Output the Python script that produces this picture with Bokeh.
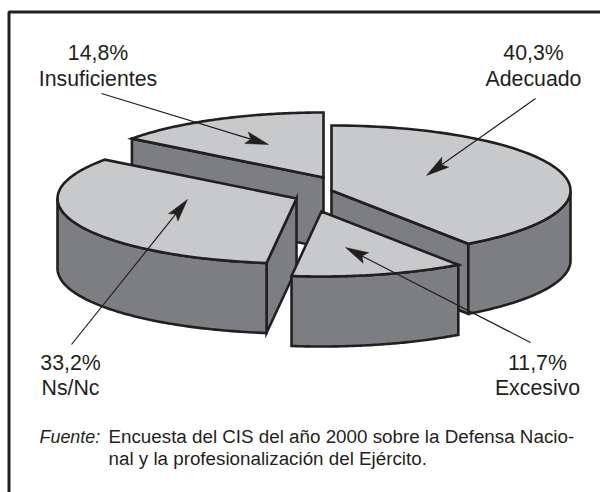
import numpy as np
from bokeh.plotting import figure
from bokeh.models import Range1d
from bokeh.core.properties import value
from bokeh.embed import file_html
from bokeh.resources import INLINE

categories = ["Adecuado", "Excesivo", "Ns/Nc", "Insuficientes"]
shares = [40.3, 11.7, 33.2, 14.8]
share_labels = ["40,3%", "11,7%", "33,2%", "14,8%"]

INK = "#231f20"
TOP = "#c8c9cb"
WALL = "#7d7e82"
FONT = value("Liberation Sans")

p = figure(width=600, height=492, output_backend="svg", toolbar_location=None,
           x_range=Range1d(0, 600), y_range=Range1d(492, 0),
           min_border=0, outline_line_color=None, background_fill_color="white")
p.axis.visible = False
p.grid.visible = False

# frame
p.line([8.5, 8.5, 600], [492, 11.5, 11.5], line_color=INK, line_width=3)

# pie geometry
RX, RY, DEPTH = 239, 65, 70
CENTRES = {"Adecuado": (331, 190), "Excesivo": (321, 211),
           "Ns/Nc": (296, 198), "Insuficientes": (323, 177)}

edges = np.concatenate([[0], np.cumsum(shares)]) * 2 * np.pi / 100
spans = {c: (edges[i], edges[i + 1]) for i, c in enumerate(categories)}


def rim(c, a, b, n=80):
    cx, cy = CENTRES[c]
    t = np.linspace(a, b, n)
    return cx + RX * np.sin(t), cy - RY * np.cos(t)


def poly(xs, ys, color):
    p.patch(xs, ys, fill_color=color, line_color=INK, line_width=2.6, line_join="miter")


def radial_wall(c, t):
    cx, cy = CENTRES[c]
    x, y = rim(c, t, t, 1)
    poly([cx, x[0], x[0], cx], [cy, y[0], y[0] + DEPTH, cy + DEPTH], WALL)


def outer_wall(c, a, b):
    x, y = rim(c, a, b)
    poly(np.r_[x, x[::-1]], np.r_[y, y[::-1] + DEPTH], WALL)


def top(c):
    cx, cy = CENTRES[c]
    a, b = spans[c]
    x, y = rim(c, a, b)
    poly(np.r_[cx, x], np.r_[cy, y], TOP)


# painter's order, back to front
c = "Insuficientes"
radial_wall(c, spans[c][0])
top(c)

c = "Adecuado"
radial_wall(c, spans[c][1])
outer_wall(c, np.pi / 2, spans[c][1])
top(c)

c = "Ns/Nc"
radial_wall(c, spans[c][0])
outer_wall(c, spans[c][0], 3 * np.pi / 2)
top(c)

c = "Excesivo"
outer_wall(c, *spans[c])
top(c)

# leader arrows
ARROWS = [((535, 98), (426, 175)), ((530, 342), (345, 247)),
          ((71, 344), (187, 199)), ((101, 93), (268, 144))]
HEAD_LEN, HEAD_NOTCH, HEAD_HALF = 23, 18.5, 6
for (x0, y0), (x1, y1) in ARROWS:
    d = np.array([x0 - x1, y0 - y1], float)
    d /= np.hypot(*d)
    n = np.array([-d[1], d[0]])
    tip = np.array([x1, y1], float)
    notch = tip + d * HEAD_NOTCH
    w1 = tip + d * HEAD_LEN + n * HEAD_HALF
    w2 = tip + d * HEAD_LEN - n * HEAD_HALF
    p.line([x0, notch[0]], [y0, notch[1]], line_color=INK, line_width=1.2)
    p.patch([tip[0], w1[0], notch[0], w2[0]], [tip[1], w1[1], notch[1], w2[1]],
            fill_color=INK, line_color=INK, line_width=0.5)

# labels
LABEL_POS = [(533, 52, 78), (537, 362, 387), (70, 362, 387), (97.5, 52, 78)]
for cat, lab, (x, y1, y2) in zip(categories, share_labels, LABEL_POS):
    for txt, y in ((lab, y1), (cat, y2)):
        p.text([x], [y], text=[txt], text_align="center", text_baseline="alphabetic",
               text_font=FONT, text_font_size="21.3px", text_color=INK)

# source note
p.text([39], [436], text=["Fuente:"], text_font=FONT, text_font_style="italic",
       text_font_size="17.9px", text_color=INK, text_baseline="alphabetic")
p.text([108, 108], [436, 458],
       text=["Encuesta del CIS del año 2000 sobre la Defensa Nacio-",
             "nal y la profesionalización del Ejército."],
       text_font=FONT, text_font_size="18.8px", text_color=INK, text_baseline="alphabetic")

open("out.html", "w").write(file_html(p, INLINE))
